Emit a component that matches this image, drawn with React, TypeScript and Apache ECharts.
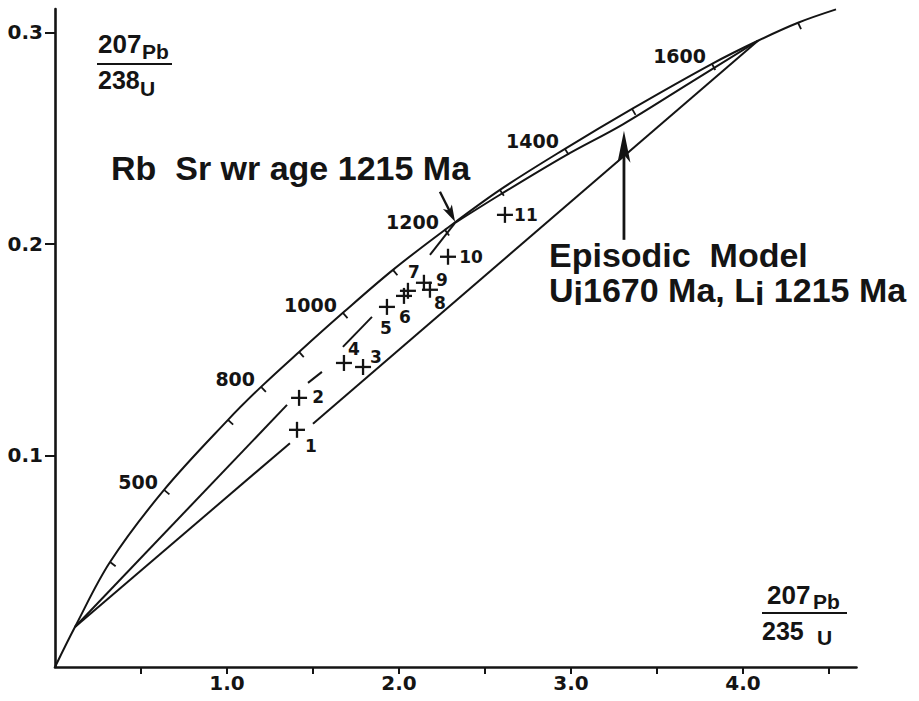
import React, { useEffect, useRef } from 'react';
import * as echarts from 'echarts';

// ---- data ----
const concordiaX = [0, 0.116, 0.32, 0.634, 1.006, 1.198, 1.419, 1.674, 1.965, 2.267, 2.587, 2.965, 3.355, 3.82, 4.087, 4.32, 4.541];
const concordiaY = [0, 0.0189, 0.0496, 0.0837, 0.1168, 0.1324, 0.1489, 0.1674, 0.1877, 0.2066, 0.2255, 0.2449, 0.2638, 0.2851, 0.296, 0.3045, 0.3108];

const tickAges = [300, 500, 700, 800, 900, 1000, 1100, 1200, 1300, 1400, 1500, 1600, 1700];
const tickX = [0.32, 0.634, 1.006, 1.198, 1.419, 1.674, 1.965, 2.267, 2.587, 2.965, 3.355, 3.82, 4.32];
const tickY = [0.0496, 0.0837, 0.1168, 0.1324, 0.1489, 0.1674, 0.1877, 0.2066, 0.2255, 0.2449, 0.2638, 0.2851, 0.3045];
const labeledAges = [500, 800, 1000, 1200, 1400, 1600];

// chord between lower and upper intercepts (interrupted at sample 1)
const chordParts = [
  [[0.116, 0.0189], [1.366, 0.1058]],
  [[1.5, 0.115], [4.087, 0.296]],
];
// episodic model path, interrupted around the samples
const episodicParts = [
  [[0.116, 0.0189], [1.349, 0.1239]],
  [[1.471, 0.1343], [1.552, 0.1395]],
  [[1.674, 0.1513], [1.843, 0.1655]],
  [[2.18, 0.1948], [2.326, 0.2099]],
];
const episodicCurveX = [2.326, 2.587, 2.965, 3.302, 3.692, 4.087];
const episodicCurveY = [0.2099, 0.2232, 0.2416, 0.2565, 0.2761, 0.296];

const sampleNames = ['1', '2', '3', '4', '5', '6', '7', '8', '9', '10', '11'];
const sampleX = [1.407, 1.419, 1.791, 1.68, 1.93, 2.029, 2.052, 2.18, 2.145, 2.285, 2.616];
const sampleY = [0.1121, 0.1272, 0.1418, 0.1437, 0.1702, 0.1754, 0.1778, 0.1783, 0.1816, 0.1939, 0.2137];

// arrows: [x1, y1, x2(tip), y2(tip)]
const arrowData = [
  [2.238, 0.2246, 2.326, 0.2104],
  [3.308, 0.2019, 3.308, 0.2534],
];

const xTickValues = [0.5, 1, 1.5, 2, 2.5, 3, 3.5, 4, 4.5];
const xLabelValues = [1, 2, 3, 4];
const yTickValues = [0.1, 0.2, 0.3];

// ---- layout / style (not data) ----
const INK = '#141414';
const SANS = '"Liberation Sans", Arial, Helvetica, sans-serif';
const WIDE = '"DejaVu Sans", sans-serif';
const sampleLabelOffsets = [
  [14, 16], [19, -1], [13, -10], [10, -14], [-1, 21], [1, 21], [6, -19], [10, 13], [18, -3], [23, 0], [21, 0],
];
const arrowHeads = [
  [17, 5, 2.4],
  [32, 6.5, 2.8],
];

function buildOption() {
  const lineSeries = (data: number[][], smooth: boolean | number = false) => ({
    type: 'line',
    data,
    smooth,
    symbol: 'none',
    silent: true,
    lineStyle: { color: INK, width: 2 },
    z: 2,
  });

  const series: any[] = [];
  series.push(lineSeries(concordiaX.map((x, i) => [x, concordiaY[i]]), 0.35));
  chordParts.forEach((p) => series.push(lineSeries(p)));
  episodicParts.forEach((p) => series.push(lineSeries(p)));
  series.push(lineSeries(episodicCurveX.map((x, i) => [x, episodicCurveY[i]]), 0.35));

  // concordia age ticks and labels
  series.push({
    type: 'custom',
    coordinateSystem: 'cartesian2d',
    encode: { x: 0, y: 1 },
    data: tickX.map((x, i) => [x, tickY[i], tickAges[i]]),
    silent: true,
    z: 3,
    renderItem: (params: any, api: any) => {
      const i = params.dataIndex;
      const n = tickX.length;
      const p = api.coord([api.value(0), api.value(1)]);
      const ia = Math.max(i - 1, 0);
      const ib = Math.min(i + 1, n - 1);
      const a = api.coord([tickX[ia], tickY[ia]]);
      const b = api.coord([tickX[ib], tickY[ib]]);
      let dx = b[0] - a[0];
      let dy = b[1] - a[1];
      const len = Math.hypot(dx, dy) || 1;
      dx /= len;
      dy /= len;
      const nx = -dy;
      const ny = dx;
      const age = api.value(2);
      const children: any[] = [
        {
          type: 'line',
          shape: { x1: p[0], y1: p[1], x2: p[0] + nx * 7, y2: p[1] + ny * 7 },
          style: { stroke: INK, lineWidth: 1.8 },
        },
      ];
      if (labeledAges.indexOf(age) >= 0) {
        children.push({
          type: 'text',
          style: {
            text: String(age),
            x: p[0] - 6,
            y: p[1] - 8,
            align: 'right',
            verticalAlign: 'middle',
            fontFamily: WIDE,
            fontWeight: 'bold',
            fontSize: 19,
            fill: INK,
          },
        });
      }
      return { type: 'group', children };
    },
  });

  // samples as crosses
  series.push({
    type: 'custom',
    coordinateSystem: 'cartesian2d',
    encode: { x: 0, y: 1 },
    data: sampleX.map((x, i) => [x, sampleY[i]]),
    silent: true,
    z: 4,
    renderItem: (params: any, api: any) => {
      const i = params.dataIndex;
      const p = api.coord([api.value(0), api.value(1)]);
      const off = sampleLabelOffsets[i];
      const arm = 8;
      return {
        type: 'group',
        children: [
          { type: 'line', shape: { x1: p[0] - arm, y1: p[1], x2: p[0] + arm, y2: p[1] }, style: { stroke: INK, lineWidth: 2.3 } },
          { type: 'line', shape: { x1: p[0], y1: p[1] - arm, x2: p[0], y2: p[1] + arm }, style: { stroke: INK, lineWidth: 2.3 } },
          {
            type: 'text',
            style: {
              text: sampleNames[i],
              x: p[0] + off[0],
              y: p[1] + off[1],
              align: 'center',
              verticalAlign: 'middle',
              fontFamily: WIDE,
              fontWeight: 'bold',
              fontSize: 17,
              fill: INK,
            },
          },
        ],
      };
    },
  });

  // arrows
  series.push({
    type: 'custom',
    coordinateSystem: 'cartesian2d',
    encode: { x: [0, 2], y: [1, 3] },
    data: arrowData,
    silent: true,
    z: 5,
    renderItem: (params: any, api: any) => {
      const i = params.dataIndex;
      const p1 = api.coord([api.value(0), api.value(1)]);
      const p2 = api.coord([api.value(2), api.value(3)]);
      const [L, W, lw] = arrowHeads[i];
      let ux = p2[0] - p1[0];
      let uy = p2[1] - p1[1];
      const len = Math.hypot(ux, uy) || 1;
      ux /= len;
      uy /= len;
      const px = -uy;
      const py = ux;
      const bx = p2[0] - ux * L;
      const by = p2[1] - uy * L;
      return {
        type: 'group',
        children: [
          {
            type: 'line',
            shape: { x1: p1[0], y1: p1[1], x2: p2[0] - ux * L * 0.5, y2: p2[1] - uy * L * 0.5 },
            style: { stroke: INK, lineWidth: lw },
          },
          {
            type: 'polygon',
            shape: {
              points: [
                [p2[0], p2[1]],
                [bx + px * W, by + py * W],
                [p2[0] - ux * L * 0.75, p2[1] - uy * L * 0.75],
                [bx - px * W, by - py * W],
              ],
            },
            style: { fill: INK },
          },
        ],
      };
    },
  });

  const txt = (text: string, x: number, y: number, size: number, family = SANS, weight = 'bold') => ({
    type: 'text',
    x,
    y,
    silent: true,
    style: { text, align: 'left', verticalAlign: 'middle', fontFamily: family, fontWeight: weight, fontSize: size, fill: INK },
  });
  const fracLine = (x1: number, x2: number, y: number) => ({
    type: 'line',
    silent: true,
    shape: { x1, y1: y, x2, y2: y },
    style: { stroke: INK, lineWidth: 2.2 },
  });

  const graphic: any[] = [
    // y-axis title 207Pb / 238U
    txt('207', 98, 44, 26),
    txt('Pb', 142, 51, 21),
    fracLine(97, 172, 64),
    txt('238', 98, 80, 25),
    txt('U', 140, 88, 21),
    // x-axis title 207Pb / 235U
    txt('207', 767, 595, 26),
    txt('Pb', 813, 601, 21),
    fracLine(762, 847, 613),
    txt('235', 762, 631, 25),
    txt('U', 817, 637, 21),
    // annotations
    txt('Rb  Sr wr age 1215 Ma', 111, 168, 34),
    txt('Episodic  Model', 549, 255, 34),
    {
      type: 'text',
      x: 549,
      y: 290,
      silent: true,
      style: {
        text: '{m|U}{s|i}{m|1670 Ma, L}{s|i}{m| 1215 Ma}',
        align: 'left',
        verticalAlign: 'middle',
        fill: INK,
        rich: {
          m: { fontFamily: SANS, fontWeight: 'bold', fontSize: 34, lineHeight: 40, fill: INK },
          s: { fontFamily: SANS, fontWeight: 'bold', fontSize: 34, lineHeight: 14, verticalAlign: 'bottom', fill: INK },
        },
      },
    },
  ];

  return {
    animation: false,
    backgroundColor: '#ffffff',
    grid: { left: 55, right: 62.5, top: 9, bottom: 34, containLabel: false },
    xAxis: {
      type: 'value',
      min: 0,
      max: 4.66,
      splitLine: { show: false },
      axisLine: { onZero: false, lineStyle: { color: INK, width: 2.6 } },
      axisTick: { customValues: xTickValues, length: 7, lineStyle: { color: INK, width: 2 } },
      axisLabel: {
        customValues: xLabelValues,
        formatter: (v: number) => v.toFixed(1),
        margin: 6,
        fontFamily: WIDE,
        fontWeight: 'bold',
        fontSize: 20,
        color: INK,
      },
    },
    yAxis: {
      type: 'value',
      min: 0,
      max: 0.311,
      splitLine: { show: false },
      axisLine: { onZero: false, lineStyle: { color: INK, width: 2.6 } },
      axisTick: { customValues: yTickValues, length: 10, lineStyle: { color: INK, width: 2 } },
      axisLabel: {
        customValues: yTickValues,
        formatter: (v: number) => v.toFixed(1),
        margin: 12,
        fontFamily: WIDE,
        fontWeight: 'bold',
        fontSize: 20,
        color: INK,
      },
    },
    series,
    graphic,
  };
}

export default function App() {
  const ref = useRef<HTMLDivElement>(null);
  useEffect(() => {
    if (!ref.current) return;
    const chart = echarts.init(ref.current, null, { renderer: 'svg' });
    chart.setOption(buildOption() as any);
    return () => chart.dispose();
  }, []);
  return (
    <div
      ref={ref}
      style={{ position: 'absolute', left: 0, top: 0, width: 919, height: 701, background: '#fff' }}
    />
  );
}
